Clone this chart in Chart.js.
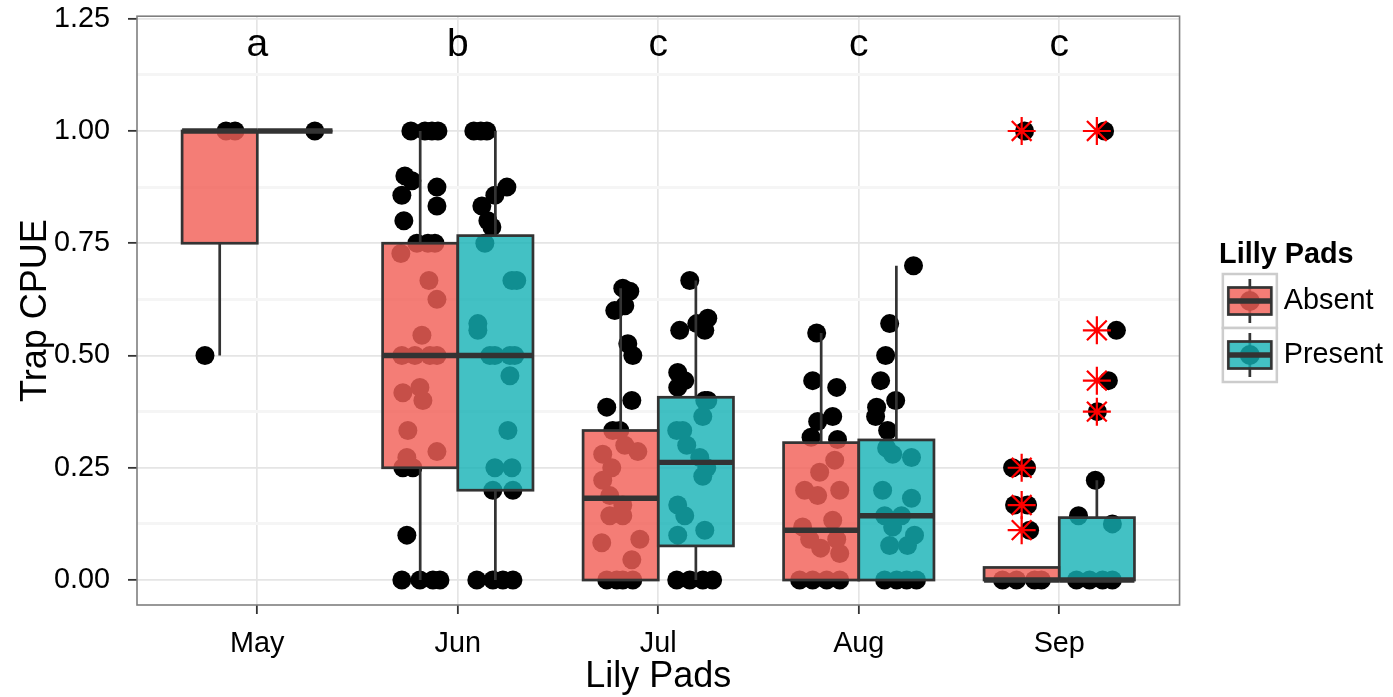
<!DOCTYPE html>
<html><head><meta charset="utf-8">
<script src="https://cdn.jsdelivr.net/npm/chart.js@4.4.1/dist/chart.umd.min.js"></script>
<style>html,body{margin:0;padding:0;background:#fff;}canvas{display:block;}</style>
</head><body>
<canvas id="c" width="1393" height="697"></canvas>
<script>
// ---------- data ----------
const categories = ['May', 'Jun', 'Jul', 'Aug', 'Sep'];
const groupNames = ['Absent', 'Present'];
const letterLabels = ['a', 'b', 'c', 'c', 'c'];
const letterY = 1.2;
const yTicks = [0, 0.125, 0.25, 0.375, 0.5, 0.625, 0.75, 0.875, 1, 1.125, 1.25];

// box statistics (per month)
const absentQ1  = [0.75, 0.25, 0,     0,     0];
const absentMed = [1,    0.5,  0.182, 0.111, 0];
const absentQ3  = [1,    0.75, 0.333, 0.306, 0.028];
const absentLo  = [0.5,  0,    0,     0,     0];
const absentHi  = [1,    1,    0.65,  0.55,  0.028];
const presentQ1  = [1, 0.2,   0.076, 0,     0];
const presentMed = [1, 0.5,   0.262, 0.143, 0];
const presentQ3  = [1, 0.767, 0.407, 0.312, 0.139];
const presentLo  = [1, 0,     0,     0,     0];
const presentHi  = [1, 1,     0.667, 0.7,   0.222];

// outliers (red asterisks)
const sepAbsentOutliers  = [1, 0.25, 0.167, 0.111];
const sepPresentOutliers = [1, 0.556, 0.444, 0.375];

// jittered observations: x (axis units), y (CPUE)
const mayAbsX = [0.739, 0.844, 0.889];
const mayAbsY = [0.5, 1, 1];
const mayPreX = [1.287];
const mayPreY = [1];

const junAbsX = [1.766,1.836,1.871,1.901,1.736,1.771,1.721,1.896,1.896,1.731,1.796,1.851,1.886,1.716,1.856,1.896,1.821,1.721,1.786,1.861,1.896,1.811,1.726,1.826,1.751,1.896,1.746,1.726,1.776,1.746,1.721,1.811,1.876,1.911];
const junAbsY = [1,1,1,1,0.9,0.889,0.857,0.875,0.833,0.8,0.75,0.75,0.75,0.727,0.667,0.625,0.545,0.5,0.5,0.5,0.5,0.429,0.417,0.4,0.333,0.286,0.273,0.25,0.25,0.1,0,0,0,0];
const junPreX = [2.08,2.115,2.145,2.245,2.185,2.12,2.15,2.17,2.135,2.27,2.294,2.10,2.10,2.16,2.185,2.26,2.284,2.26,2.25,2.185,2.27,2.175,2.275,2.095,2.175,2.225,2.275];
const junPreY = [1,1,1,0.875,0.857,0.833,0.8,0.786,0.75,0.667,0.667,0.571,0.556,0.5,0.5,0.5,0.5,0.455,0.333,0.25,0.25,0.2,0.2,0,0,0,0];

const julAbsX = [2.823,2.858,2.783,2.833,2.848,2.873,2.868,2.743,2.773,2.808,2.833,2.898,2.723,2.768,2.723,2.758,2.823,2.758,2.823,2.718,2.908,2.868,2.743,2.793,2.823,2.873];
const julAbsY = [0.65,0.643,0.6,0.611,0.526,0.5,0.4,0.385,0.333,0.333,0.3,0.286,0.28,0.25,0.222,0.188,0.167,0.143,0.143,0.083,0.091,0.045,0,0,0,0];
const julPreX = [3.157,3.247,3.232,3.107,3.192,3.097,3.132,3.097,3.247,3.232,3.222,3.092,3.122,3.142,3.207,3.242,3.222,3.097,3.132,3.232,3.097,3.092,3.157,3.222,3.271];
const julPreY = [0.667,0.583,0.556,0.556,0.571,0.462,0.444,0.429,0.4,0.4,0.364,0.333,0.333,0.3,0.273,0.25,0.231,0.167,0.143,0.111,0.1,0,0,0,0];

const augAbsX = [3.79,3.77,3.89,3.87,3.795,3.762,3.894,3.88,3.805,3.73,3.795,3.905,3.87,3.72,3.755,3.89,3.81,3.905,3.705,3.77,3.84,3.905];
const augAbsY = [0.55,0.444,0.429,0.364,0.353,0.318,0.313,0.267,0.24,0.2,0.188,0.2,0.133,0.118,0.091,0.091,0.071,0.059,0,0,0,0];
const augPreX = [4.273,4.154,4.134,4.109,4.184,4.089,4.084,4.144,4.139,4.169,4.263,4.119,4.263,4.129,4.213,4.169,4.278,4.154,4.243,4.129,4.189,4.239,4.288];
const augPreY = [0.7,0.571,0.5,0.444,0.4,0.385,0.364,0.333,0.294,0.28,0.273,0.2,0.182,0.143,0.143,0.118,0.1,0.077,0.077,0,0,0,0];

const sepAbsX = [4.827,4.767,4.837,4.777,4.842,4.852,4.717,4.787,4.877,4.911];
const sepAbsY = [1,0.25,0.25,0.167,0.167,0.111,0,0,0,0];
const sepPreX = [5.226,5.285,5.245,5.19,5.18,5.096,5.265,5.086,5.151,5.216,5.265];
const sepPreY = [1,0.556,0.444,0.375,0.222,0.143,0.125,0,0,0,0];

// ---------- styling ----------
const DODGE = 0.1875;          // ggplot dodge offset (axis units)
const HALF = 0.1875;           // half box width (axis units)
const FILL_ABS = 'rgba(242,96,88,0.82)';
const FILL_PRE = 'rgba(20,178,181,0.8)';
const EDGE = '#333333';
const FONT = "'Liberation Sans', Arial, Helvetica, sans-serif";
Chart.defaults.font.family = FONT;
Chart.defaults.color = '#000';

const toPts = (xs, ys) => xs.map((x, i) => ({x, y: ys[i]}));
const absentPts = [].concat(toPts(mayAbsX, mayAbsY), toPts(junAbsX, junAbsY), toPts(julAbsX, julAbsY), toPts(augAbsX, augAbsY), toPts(sepAbsX, sepAbsY));
const presentPts = [].concat(toPts(mayPreX, mayPreY), toPts(junPreX, junPreY), toPts(julPreX, julPreY), toPts(augPreX, augPreY), toPts(sepPreX, sepPreY));
const sepIdx = categories.indexOf('Sep') + 1;
const outlierPts = [].concat(
  sepAbsentOutliers.map(v => ({x: sepIdx - DODGE, y: v})),
  sepPresentOutliers.map(v => ({x: sepIdx + DODGE, y: v})));

function makeKey(fill) {
  const c = document.createElement('canvas');
  c.width = 90; c.height = 60;
  const g = c.getContext('2d');
  const cx = 45 + 12.8, cy = 30;
  g.fillStyle = '#fff'; g.fillRect(cx - 27, cy - 27, 54, 54);
  g.strokeStyle = '#CCCCCC'; g.lineWidth = 2.5; g.strokeRect(cx - 27, cy - 27, 54, 54);
  g.strokeStyle = EDGE; g.lineWidth = 2.7;
  g.beginPath(); g.moveTo(cx, cy - 22); g.lineTo(cx, cy + 22); g.stroke();
  g.fillStyle = '#000'; g.beginPath(); g.arc(cx, cy, 10, 0, Math.PI * 2); g.fill();
  g.fillStyle = fill; g.fillRect(cx - 21.5, cy - 13.5, 43, 27);
  g.strokeRect(cx - 21.5, cy - 13.5, 43, 27);
  g.lineWidth = 5.4; g.beginPath(); g.moveTo(cx - 21.5, cy); g.lineTo(cx + 21.5, cy); g.stroke();
  return c;
}
const keyAbs = makeKey(FILL_ABS);
const keyPre = makeKey(FILL_PRE);

const isMajor = v => Math.abs(v * 4 - Math.round(v * 4)) < 1e-9;

const boxPlugin = {
  id: 'boxes',
  afterDatasetDraw(chart, args) {
    if (args.index !== 1) return;
    const {ctx, chartArea: a, scales: {x, y}} = chart;
    ctx.save();
    ctx.beginPath(); ctx.rect(a.left, a.top, a.right - a.left, a.bottom - a.top); ctx.clip();
    const groups = [
      {off: -DODGE, q1: absentQ1, med: absentMed, q3: absentQ3, lo: absentLo, hi: absentHi, fill: FILL_ABS},
      {off: DODGE, q1: presentQ1, med: presentMed, q3: presentQ3, lo: presentLo, hi: presentHi, fill: FILL_PRE}
    ];
    groups.forEach(g => categories.forEach((c, i) => {
      const cv = i + 1 + g.off;
      const xl = x.getPixelForValue(cv - HALF), xr = x.getPixelForValue(cv + HALF), xc = x.getPixelForValue(cv);
      const y1 = y.getPixelForValue(g.q1[i]), y3 = y.getPixelForValue(g.q3[i]);
      const ym = y.getPixelForValue(g.med[i]), ylo = y.getPixelForValue(g.lo[i]), yhi = y.getPixelForValue(g.hi[i]);
      ctx.strokeStyle = EDGE; ctx.lineWidth = 2.7; ctx.lineCap = 'butt';
      ctx.beginPath(); ctx.moveTo(xc, yhi); ctx.lineTo(xc, y3); ctx.moveTo(xc, y1); ctx.lineTo(xc, ylo); ctx.stroke();
      ctx.fillStyle = g.fill; ctx.fillRect(xl, y3, xr - xl, y1 - y3);
      ctx.strokeRect(xl, y3, xr - xl, y1 - y3);
      ctx.lineWidth = 5.4; ctx.beginPath(); ctx.moveTo(xl, ym); ctx.lineTo(xr, ym); ctx.stroke();
    }));
    ctx.restore();
  }
};

const decoPlugin = {
  id: 'deco',
  afterDatasetsDraw(chart) {
    const {ctx, chartArea: a, scales: {x, y}} = chart;
    ctx.save();
    ctx.strokeStyle = '#7F7F7F'; ctx.lineWidth = 1.6;
    ctx.strokeRect(a.left, a.top, a.right - a.left, a.bottom - a.top);
    ctx.fillStyle = '#000'; ctx.font = '39px ' + FONT;
    ctx.textAlign = 'center'; ctx.textBaseline = 'middle';
    letterLabels.forEach((t, i) => ctx.fillText(t, x.getPixelForValue(i + 1), y.getPixelForValue(letterY) + 4));
    ctx.restore();
  }
};

new Chart(document.getElementById('c'), {
  type: 'scatter',
  data: {
    datasets: [
      {label: 'Outliers', data: outlierPts, pointStyle: 'star', radius: 14, borderColor: '#FF0000', borderWidth: 2.2, backgroundColor: '#FF0000'},
      {label: 'Absent', data: absentPts, pointStyle: 'circle', radius: 9.5, borderWidth: 0, backgroundColor: '#000'},
      {label: 'Present', data: presentPts, pointStyle: 'circle', radius: 9.5, borderWidth: 0, backgroundColor: '#000'}
    ]
  },
  options: {
    responsive: false, animation: false, devicePixelRatio: 1, events: [],
    layout: {padding: {top: 16, left: 0, right: 0, bottom: 0}},
    plugins: {
      tooltip: {enabled: false},
      legend: {
        position: 'right', align: 'start',
        title: {display: true, text: 'Lilly Pads', color: '#000', position: 'center',
                font: {size: 28.8, weight: 'bold'}, padding: {top: 224.3, bottom: -13.5}},
        labels: {
          usePointStyle: true, pointStyleWidth: 64.6, padding: 25.2, color: '#000', font: {size: 28.8},
          generateLabels: () => [
            {text: groupNames[0], pointStyle: keyAbs, fillStyle: 'rgba(0,0,0,0)', strokeStyle: 'rgba(0,0,0,0)', lineWidth: 0, hidden: false, datasetIndex: 1, fontColor: '#000'},
            {text: groupNames[1], pointStyle: keyPre, fillStyle: 'rgba(0,0,0,0)', strokeStyle: 'rgba(0,0,0,0)', lineWidth: 0, hidden: false, datasetIndex: 2, fontColor: '#000'}
          ]
        }
      }
    },
    scales: {
      x: {
        type: 'linear', min: 0.4, max: 5.6,
        afterBuildTicks: s => { s.ticks = categories.map((c, i) => ({value: i + 1})); },
        afterFit: s => { s.height = 92; s.paddingLeft = 0; s.paddingRight = 0; },
        ticks: {callback: v => categories[Math.round(v) - 1], autoSkip: false, maxRotation: 0, padding: 12.7, color: '#000', font: {size: 28.8}},
        grid: {color: '#E5E5E5', lineWidth: 1.7, tickLength: 9, tickColor: '#333', tickWidth: 1.8},
        border: {display: false},
        title: {display: true, text: 'Lily Pads', color: '#000', font: {size: 36}, padding: {top: 0, bottom: -2}}
      },
      y: {
        type: 'linear', min: -0.0556, max: 1.2556,
        afterBuildTicks: s => { s.ticks = yTicks.map(v => ({value: v})); },
        afterFit: s => { s.width = 137; s.paddingTop = 0; s.paddingBottom = 0; },
        ticks: {callback: v => isMajor(v) ? v.toFixed(2) : '', autoSkip: false, padding: 18, color: '#000', font: {size: 28.8}},
        grid: {
          color: c => isMajor(c.tick.value) ? '#E5E5E5' : '#F5F5F5',
          lineWidth: c => isMajor(c.tick.value) ? 1.7 : 3,
          tickLength: 9,
          tickColor: c => isMajor(c.tick.value) ? '#333' : 'rgba(0,0,0,0)',
          tickWidth: 1.8
        },
        border: {display: false},
        title: {display: true, text: 'Trap CPUE', color: '#000', font: {size: 36}, padding: {top: 14, bottom: 0}}
      }
    }
  },
  plugins: [boxPlugin, decoPlugin]
});
</script>
</body></html>
